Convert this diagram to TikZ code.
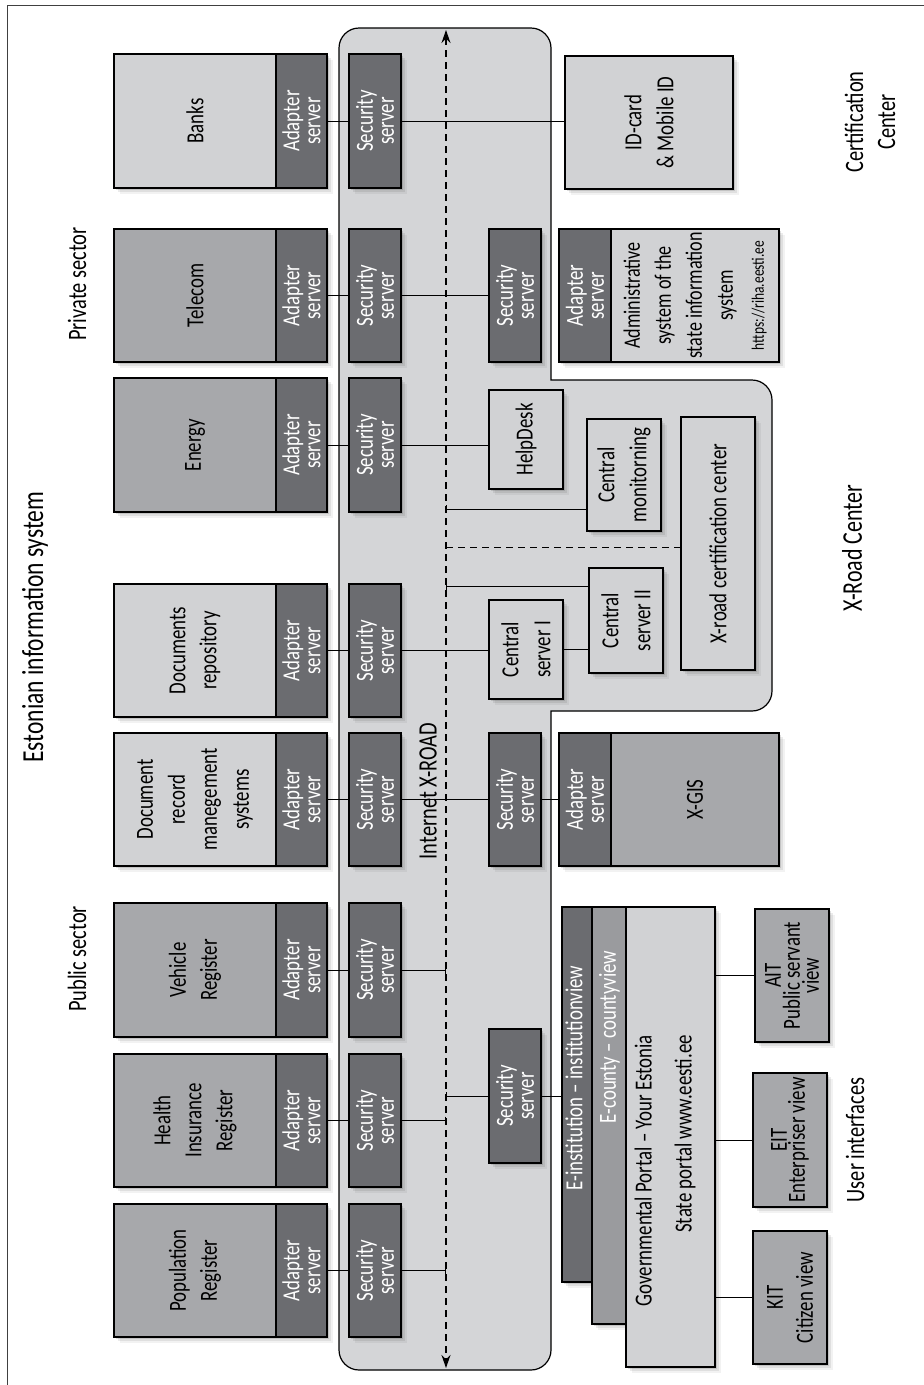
\documentclass[tikz,border=0pt]{standalone}
\usepackage{fontspec}
\setmainfont{Carlito}[FakeStretch=0.77]
\usepackage{graphicx}
\usetikzlibrary{arrows.meta,shadows}
\definecolor{xrfill}{HTML}{D4D5D7}
\definecolor{lightb}{HTML}{D1D2D4}
\definecolor{midb}{HTML}{A7A8AB}
\definecolor{darkb}{HTML}{6B6C70}
\definecolor{ctyb}{HTML}{9A9B9E}
\definecolor{framec}{HTML}{404040}
\newcommand{\rtx}[2][31]{\rotatebox{90}{\vbox{\baselineskip=#1pt\lineskiplimit=-100pt\lineskip=0pt\halign{\hfil##\hfil\cr#2\crcr}}}}
\newcommand{\rtxr}[2][31]{\rotatebox{90}{\vbox{\baselineskip=#1pt\lineskiplimit=-100pt\lineskip=0pt\halign{\hfil##\cr#2\crcr}}}}
\newcommand{\mybx}[7][]{\node[box,#1,minimum width={(#5)-(#3)},minimum height={(#6)-(#4)}] (#2) at ({((#3)+(#5))/2},{((#4)+(#6))/2}) {#7};}
\tikzset{
  shad/.style={drop shadow={shadow xshift=1.5pt,shadow yshift=-1.5pt,opacity=.12,fill=black},
               drop shadow={shadow xshift=3.5pt,shadow yshift=-3.5pt,opacity=.08,fill=black},
               drop shadow={shadow xshift=6pt,shadow yshift=-6pt,opacity=.05,fill=black}},
  box/.style={draw=black,line width=1.2pt,inner sep=0pt,outer sep=0pt,font=\fontsize{24.5}{24.5}\selectfont,shad},
  lbl/.style={inner sep=0pt,outer sep=0pt,font=\fontsize{26.5}{26.5}\selectfont},
  conn/.style={draw=black,line width=1pt},
  dsh/.style={dash pattern=on 7pt off 5pt},
}
\begin{document}
\begin{tikzpicture}[x=1pt,y=-1pt]
\useasboundingbox (0,0) rectangle (924,1385);
\fill[white] (0,0) rectangle (924,1385);
\draw[framec,line width=1pt] (7,1385) -- (7,5) -- (924,5);
% X-ROAD area with X-Road Center
\draw[fill=xrfill,line width=1.2pt] (359,28) -- (531,28) .. controls (542,28) and (551,37) .. (551,48) -- (551,380) -- (752,380) .. controls (763,380) and (772,389) .. (772,400) -- (772,691) .. controls (772,702) and (763,711) .. (752,711) -- (551,711) -- (551,1350) .. controls (551,1361) and (542,1370) .. (531,1370) -- (359,1370) .. controls (348,1370) and (339,1361) .. (339,1350) -- (339,48) .. controls (339,37) and (348,28) .. (359,28) -- cycle;
\coordinate (atop) at (446,30);
\coordinate (abot) at (446,1368);
\draw[line width=1.1pt,dsh,{Stealth[length=13pt,width=9pt]}-{Stealth[length=13pt,width=9pt]}] (atop) -- (abot);
% labels
\node[lbl,font=\fontsize{30.5}{30.5}\selectfont] (title) at (35,627) {\rtx{Estonian information system}};
\node[lbl] (priv) at (77,284) {\rtx{Private sector}};
\node[lbl] (pub) at (77,959) {\rtx{Public sector}};
\node[lbl] (cert) at (870,122) {\rtx[32]{Certification\cr Center}};
\node[lbl,font=\fontsize{28.5}{28.5}\selectfont] (xrc) at (852,548) {\rtx{X-Road Center}};
\node[lbl] (ui) at (855,1140) {\rtx{User interfaces}};
\node[lbl] (inet) at (428,791) {\rtx{Internet X-ROAD}};
% left column rows
\mybx[fill=lightb]{s1}{114}{54}{276}{188}{\rtx{Banks}}
\mybx[fill=darkb,text=white]{a1}{276}{54}{327}{188}{\rtx[21]{Adapter\cr server}}
\mybx[fill=darkb,text=white]{c1}{349}{54}{401}{188}{\rtx[21]{Security\cr server}}
\mybx[fill=midb]{s2}{114}{229}{276}{362}{\rtx{Telecom}}
\mybx[fill=darkb,text=white]{a2}{276}{229}{327}{362}{\rtx[21]{Adapter\cr server}}
\mybx[fill=darkb,text=white]{c2}{349}{229}{401}{362}{\rtx[21]{Security\cr server}}
\mybx[fill=midb]{s3}{114}{378}{276}{512}{\rtx{Energy}}
\mybx[fill=darkb,text=white]{a3}{276}{378}{327}{512}{\rtx[21]{Adapter\cr server}}
\mybx[fill=darkb,text=white]{c3}{349}{378}{401}{512}{\rtx[21]{Security\cr server}}
\mybx[fill=lightb]{s4}{114}{584}{276}{717}{\rtx{Documents\cr repository}}
\mybx[fill=darkb,text=white]{a4}{276}{584}{327}{717}{\rtx[21]{Adapter\cr server}}
\mybx[fill=darkb,text=white]{c4}{349}{584}{401}{717}{\rtx[21]{Security\cr server}}
\mybx[fill=lightb]{s5}{114}{733}{276}{866}{\rtx[32]{Document\cr record\cr manegement\cr systems}}
\mybx[fill=darkb,text=white]{a5}{276}{733}{327}{866}{\rtx[21]{Adapter\cr server}}
\mybx[fill=darkb,text=white]{c5}{349}{733}{401}{866}{\rtx[21]{Security\cr server}}
\mybx[fill=midb]{s6}{114}{903}{276}{1037}{\rtx{Vehicle\cr Register}}
\mybx[fill=darkb,text=white]{a6}{276}{903}{327}{1037}{\rtx[21]{Adapter\cr server}}
\mybx[fill=darkb,text=white]{c6}{349}{903}{401}{1037}{\rtx[21]{Security\cr server}}
\mybx[fill=midb]{s7}{114}{1054}{276}{1187}{\rtx{Health\cr Insurance\cr Register}}
\mybx[fill=darkb,text=white]{a7}{276}{1054}{327}{1187}{\rtx[21]{Adapter\cr server}}
\mybx[fill=darkb,text=white]{c7}{349}{1054}{401}{1187}{\rtx[21]{Security\cr server}}
\mybx[fill=midb]{s8}{114}{1204}{276}{1337}{\rtx{Population\cr Register}}
\mybx[fill=darkb,text=white]{a8}{276}{1204}{327}{1337}{\rtx[21]{Adapter\cr server}}
\mybx[fill=darkb,text=white]{c8}{349}{1204}{401}{1337}{\rtx[21]{Security\cr server}}
% right side
\mybx[fill=lightb]{idc}{565}{56}{733}{189}{\rtx[32]{ID-card\cr \& Mobile ID}}
\mybx[fill=darkb,text=white]{secT}{489}{229}{541}{362}{\rtx[21]{Security\cr server}}
\mybx[fill=darkb,text=white]{adpA}{559}{229}{611}{362}{\rtx[21]{Adapter\cr server}}
\mybx[fill=lightb,font=\fontsize{23.5}{23.5}\selectfont]{adm}{611}{229}{779}{362}{\rtx[31]{Administrative\cr system of the\cr state information\cr system\cr {\fontsize{17.5}{17.5}\selectfont https://riha.eesti.ee}}}
\mybx[fill=lightb]{hd}{489}{390}{563}{489}{\rtx{HelpDesk}}
\mybx[fill=lightb]{cm}{587}{419}{661}{531}{\rtx[32]{Central\cr monitorning}}
\mybx[fill=lightb]{xcc}{681}{417}{755}{670}{\rtx{X-road certification center}}
\mybx[fill=lightb]{cs2}{589}{568}{663}{673}{\rtx[32]{Central\cr server II}}
\mybx[fill=lightb]{cs1}{489}{600}{563}{699}{\rtx[32]{Central\cr server I}}
\mybx[fill=darkb,text=white]{secX}{489}{733}{541}{866}{\rtx[21]{Security\cr server}}
\mybx[fill=darkb,text=white]{adpX}{559}{733}{611}{866}{\rtx[21]{Adapter\cr server}}
\mybx[fill=midb]{xgis}{611}{733}{779}{866}{\rtx{X-GIS}}
\mybx[fill=darkb,text=white]{secP}{489}{1029}{541}{1163}{\rtx[21]{Security\cr server}}
\mybx[fill=darkb]{einst}{562}{907}{592}{1282}{}
\mybx[fill=ctyb]{ecty}{592}{907}{626}{1324}{}
\mybx[fill=lightb]{gov}{626}{907}{715}{1367}{}
\node[lbl,font=\fontsize{24.5}{24.5}\selectfont,text=white] (einstt) at (574,1078) {\rtx{E-institution -- institutionview}};
\node[lbl,font=\fontsize{24.5}{24.5}\selectfont,text=white] (ectyt) at (609.5,1037) {\rtx{E-county -- countyview}};
\node[lbl,font=\fontsize{24.5}{24.5}\selectfont,anchor=north] (govt) at (665,1035) {\rtxr[40]{Governmental Portal -- Your Estonia\cr State portal www.eesti.ee}};
\mybx[fill=midb]{ait}{755}{909}{829}{1042}{\rtx[19]{AIT\cr Public servant\cr view}}
\mybx[fill=midb]{eit}{753}{1073}{827}{1207}{\rtx[18]{EIT\cr Enterpriser view}}
\mybx[fill=midb]{kit}{753}{1231}{827}{1364}{\rtx[30]{KIT\cr Citizen view}}
% connectors
\foreach \i in {1,...,8} \draw[conn] (a\i) -- (c\i);
\draw[conn] (c1) -- (c1 -| idc.west);
\draw[conn] (c2) -- (secT);
\draw[conn] (c3) -- (c3 -| hd.west);
\draw[conn] (c4) -- (c4 -| cs1.west);
\draw[conn] (cs1) -- (cs1 -| cs2.west);
\draw[conn] (c5) -- (secX);
\draw[conn] (secX) -- (adpX);
\draw[conn,-{Bar[width=8pt]}] (c6) -- (c6 -| atop);
\draw[conn,-{Bar[width=8pt]}] (c7) -- (c7 -| atop);
\draw[conn,-{Bar[width=8pt]}] (c8) -- (c8 -| atop);
\coordinate (tcm) at (446,509);
\draw[conn,{Bar[width=8pt]}-] (tcm) -- (tcm -| cm.west);
\coordinate (txc) at (446,547);
\draw[conn,dsh] (txc) -- (txc -| xcc.west);
\coordinate (tcs) at (446,586);
\draw[conn,{Bar[width=8pt]}-] (tcs) -- (tcs -| cs2.west);
\draw[conn,{Bar[width=8pt]}-] (secP -| atop) -- (secP);
\draw[conn] (secP) -- (secP -| einst.west);
\draw[conn] (ait) -- (ait -| gov.east);
\draw[conn] (eit) -- (eit -| gov.east);
\draw[conn] (kit) -- (kit -| gov.east);
\end{tikzpicture}
\end{document}
